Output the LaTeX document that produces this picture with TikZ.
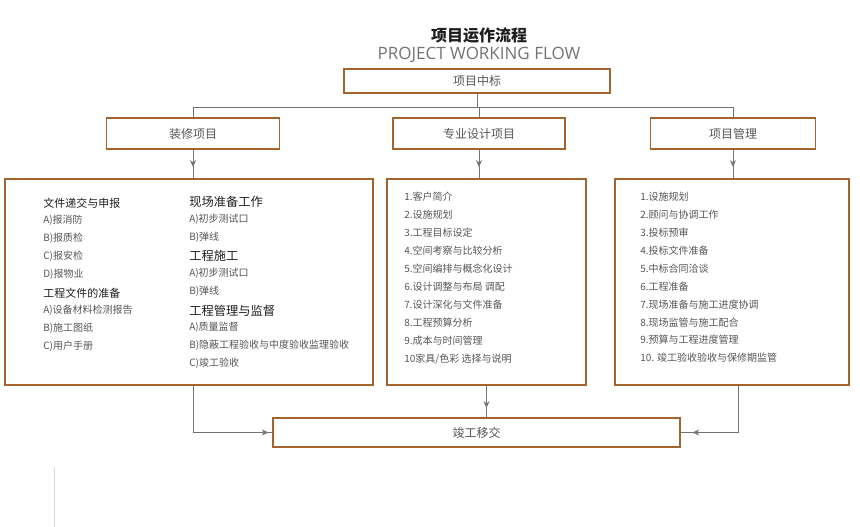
\documentclass[tikz,border=0pt]{standalone}
\usepackage{fontspec}
\setmainfont{Noto Sans CJK SC}
\newfontfamily\latinfont{Open Sans}
\usetikzlibrary{arrows.meta,decorations.markings}

\definecolor{boxbrown}{RGB}{163,100,45}
\definecolor{linegray}{RGB}{115,115,115}
\definecolor{itemgray}{RGB}{85,85,85}
\definecolor{headdark}{RGB}{30,30,30}
\definecolor{palegray}{RGB}{215,215,215}

\tikzset{
  stagebox/.style={draw=boxbrown, line width=0.8pt, inner sep=0pt, text=itemgray,
    minimum height=23.25pt, font=\fontsize{9}{11}\selectfont},
  listbox/.style={draw=boxbrown, line width=0.8pt, inner sep=0pt, minimum height=154.5pt},
  item/.style={anchor=west, inner sep=0pt, text=itemgray, font=\fontsize{7.5}{9}\selectfont},
  headsmall/.style={anchor=west, inner sep=0pt, text=headdark, font=\fontsize{8.25}{10}\selectfont},
  headbig/.style={anchor=west, inner sep=0pt, text=headdark, font=\fontsize{9.2}{11}\selectfont},
  conn/.style={draw=linegray, line width=0.7pt},
  tipat/.style={postaction={decorate}, decoration={markings,
    mark=at position #1 with {\arrow[linegray]{Stealth[length=5pt,width=4.5pt]}}}}
}

\begin{document}
\begin{tikzpicture}[x=0.75pt,y=-0.75pt]
    \useasboundingbox (0,0) rectangle (860,527);

    % title
    \node[text=headdark, font=\fontsize{12}{14}\selectfont\bfseries] (title) at (479,36) {项目运作流程};
    \node[text=linegray, font=\latinfont\fontsize{12.75}{14}\selectfont] (subtitle) at (479,55) {PROJECT WORKING FLOW};

    % stage boxes
    \node[stagebox, minimum width=199.5pt, minimum height=18pt] (zb) at (477,81) {项目中标};
    \node[stagebox, minimum width=129.75pt] (zx) at (193,133.5) {装修项目};
    \node[stagebox, minimum width=129pt] (zs) at (479,133.5) {专业设计项目};
    \node[stagebox, minimum width=123.75pt] (gl) at (733,133.5) {项目管理};
    \node[stagebox, minimum width=305.25pt, minimum height=21.75pt] (jg) at (476.5,432.5) {竣工移交};

    % list boxes
    \node[listbox, minimum width=276pt] (lbig) at (189,282) {};
    \node[listbox, minimum width=149.25pt] (mbig) at (486.5,282) {};
    \node[listbox, minimum width=175.5pt] (rbig) at (732,282) {};

    % left box, first column
    \node[headsmall] (wj) at (43,203) {文件递交与申报};
    \node[item] (wj1) at (43,220) {A)报消防};
    \node[item] (wj2) at (43,238) {B)报质检};
    \node[item] (wj3) at (43,256) {C)报安检};
    \node[item] (wj4) at (43,274) {D)报物业};
    \node[headsmall] (zbw) at (43,293) {工程文件的准备};
    \node[item] (zbw1) at (43,310) {A)设备材料检测报告};
    \node[item] (zbw2) at (43,328) {B)施工图纸};
    \node[item] (zbw3) at (43,346) {C)用户手册};

    % left box, second column
    \node[headbig] (xc) at (189,202) {现场准备工作};
    \node[item] (xc1) at (189,219) {A)初步测试口};
    \node[item] (xc2) at (189,237) {B)弹线};
    \node[headbig] (sg) at (189,256) {工程施工};
    \node[item] (sg1) at (189,273) {A)初步测试口};
    \node[item] (sg2) at (189,291) {B)弹线};
    \node[headbig] (jd) at (189,311) {工程管理与监督};
    \node[item] (jd1) at (189,327) {A)质量监督};
    \node[item] (jd2) at (189,345) {B)隐蔽工程验收与中度验收监理验收};
    \node[item] (jd3) at (189,363) {C)竣工验收};

    % middle box
    \foreach \t [count=\i] in {1.客户简介, 2.设施规划, 3.工程目标设定, 4.空间考察与比较分析,
        5.空间编排与概念化设计, 6.设计调整与布局 调配, 7.设计深化与文件准备,
        8.工程预算分析, 9.成本与时间管理, 10家具/色彩 选择与说明}
      \node[item] (sj\i) at (404,179+18*\i) {\t};

    % right box
    \foreach \t [count=\i] in {1.设施规划, 2.顾问与协调工作, 3.投标预审, 4.投标文件准备,
        5.中标合同洽谈, 6.工程准备, 7.现场准备与施工进度协调, 8.现场监管与施工配合,
        9.预算与工程进度管理, 10. 竣工验收验收与保修期监管}
      \node[item] (gl\i) at (640,179+17.9*\i) {\t};

    % connectors
    \coordinate (split) at (zb.south |- 0,107);
    \draw[conn] (zb.south) -- (split);
    \draw[conn] (zx.north) -- (zx.north |- split) -- (gl.north |- split) -- (gl.north);
    \draw[conn] (zs.north) -- (zs.north |- split);

    \draw[conn, tipat=0.6] (zx.south) -- (zx.south |- lbig.north);
    \draw[conn, tipat=0.6] (zs.south) -- (zs.south |- mbig.north);
    \draw[conn, tipat=0.6] (gl.south) -- (gl.south |- rbig.north);

    \draw[conn, tipat=0.7] (mbig.south) -- (mbig.south |- jg.north);
    \draw[conn, tipat=-3pt] (zx.south |- lbig.south) |- (jg.west);
    \draw[conn, tipat=-9pt] (rbig.south -| 738,0) |- (jg.east);

    % pale rule at the bottom
    \draw[palegray, line width=0.7pt] (54,467) -- (54,527);
\end{tikzpicture}
\end{document}
